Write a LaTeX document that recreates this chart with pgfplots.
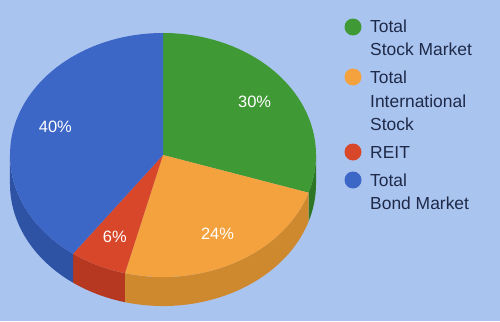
\documentclass[border=0pt]{standalone}
\usepackage{pgfplots}
\pgfplotsset{compat=1.18}
\usepackage{pgfplotstable}
\usepackage{fontspec}
\setmainfont{Liberation Sans}
\definecolor{bg}{RGB}{170,196,240}
\definecolor{c0}{RGB}{63,154,53}  \definecolor{s0}{RGB}{44,118,38}
\definecolor{c1}{RGB}{244,162,62} \definecolor{s1}{RGB}{206,136,46}
\definecolor{c2}{RGB}{216,71,42}  \definecolor{s2}{RGB}{182,56,32}
\definecolor{c3}{RGB}{61,103,198} \definecolor{s3}{RGB}{46,82,164}
\definecolor{txt}{RGB}{30,42,72}

\pgfplotstableread{
share
30
24
6
40
}\piedata

\begin{document}%
\begin{tikzpicture}
\def\pcx{163}\def\pcy{166}\def\prx{153}\def\pry{122}\def\pdep{29}
\pgfmathsetmacro\pacc{0}
\pgfplotsforeachungrouped \i in {0,...,3}{%
  \pgfplotstablegetelem{\i}{share}\of\piedata
  \let\pval\pgfplotsretval
  \pgfmathsetmacro\pS{90-3.6*\pacc}%
  \pgfmathsetmacro\pacc{\pacc+\pval}%
  \pgfmathsetmacro\pE{90-3.6*\pacc}%
  \pgfmathsetmacro\pM{(\pS+\pE)/2}%
  \pgfmathsetmacro\pSS{min(\pS,0)}%
  \pgfmathsetmacro\pSE{max(\pE,-180)}%
  \pgfmathsetmacro\pXS{\pcx+\prx*cos(\pS)}%
  \pgfmathsetmacro\pYS{\pcy+\pry*sin(\pS)}%
  \pgfmathsetmacro\pXSS{\pcx+\prx*cos(\pSS)}%
  \pgfmathsetmacro\pYSS{\pcy+\pry*sin(\pSS)}%
  \pgfmathsetmacro\pXL{\pcx+0.74*\prx*cos(\pM)}%
  \pgfmathsetmacro\pYL{\pcy+0.74*\pry*sin(\pM)}%
  \expandafter\xdef\csname V\i\endcsname{\pval}%
  \expandafter\xdef\csname S\i\endcsname{\pS}%
  \expandafter\xdef\csname E\i\endcsname{\pE}%
  \expandafter\xdef\csname SS\i\endcsname{\pSS}%
  \expandafter\xdef\csname SE\i\endcsname{\pSE}%
  \expandafter\xdef\csname XS\i\endcsname{\pXS}%
  \expandafter\xdef\csname YS\i\endcsname{\pYS}%
  \expandafter\xdef\csname XSS\i\endcsname{\pXSS}%
  \expandafter\xdef\csname YSS\i\endcsname{\pYSS}%
  \expandafter\xdef\csname XL\i\endcsname{\pXL}%
  \expandafter\xdef\csname YL\i\endcsname{\pYL}%
}%
\begin{axis}[x=1bp,y=1bp,xmin=0,xmax=500,ymin=0,ymax=321,hide axis,clip=false]
\fill[bg] (axis cs:0,0) rectangle (axis cs:500,321);
\coordinate (BBA) at (axis cs:0,0);
\coordinate (BBB) at (axis cs:500,321);
% sides
\pgfplotsinvokeforeach{0,...,3}{
  \fill[s#1] (axis cs:\csname XSS#1\endcsname,\csname YSS#1\endcsname)
    arc[start angle=\csname SS#1\endcsname, end angle=\csname SE#1\endcsname, x radius=\prx bp, y radius=\pry bp]
    -- ++(0,-\pdep)
    arc[start angle=\csname SE#1\endcsname, end angle=\csname SS#1\endcsname, x radius=\prx bp, y radius=\pry bp]
    -- cycle;
}
% top faces
\pgfplotsinvokeforeach{0,...,3}{
  \fill[c#1] (axis cs:\pcx,\pcy) -- (axis cs:\csname XS#1\endcsname,\csname YS#1\endcsname)
    arc[start angle=\csname S#1\endcsname, end angle=\csname E#1\endcsname, x radius=\prx bp, y radius=\pry bp]
    -- cycle;
}
% labels
\pgfplotsinvokeforeach{0,...,3}{
  \node[white, font=\fontsize{16.5}{18}\selectfont] at (axis cs:\csname XL#1\endcsname,\csname YL#1\endcsname) {\csname V#1\endcsname\%};
}
% legend
\fill[c0] (axis cs:353,294) circle[radius=8.5bp];
\fill[c1] (axis cs:353,244) circle[radius=8.5bp];
\fill[c2] (axis cs:353,169) circle[radius=8.5bp];
\fill[c3] (axis cs:353,141) circle[radius=8.5bp];
\begin{scope}[every node/.style={anchor=base west, text=txt, inner sep=0pt, font=\fontsize{17.5}{21}\selectfont}]
\node at (axis cs:370,289) {Total};
\node at (axis cs:370,266) {Stock Market};
\node at (axis cs:370,238) {Total};
\node at (axis cs:370,214) {International};
\node at (axis cs:370,191) {Stock};
\node at (axis cs:370,163) {REIT};
\node at (axis cs:370,135) {Total};
\node at (axis cs:370,112) {Bond Market};
\end{scope}
\end{axis}
\pgfresetboundingbox
\useasboundingbox (BBA) rectangle (BBB);
\end{tikzpicture}%
\end{document}
